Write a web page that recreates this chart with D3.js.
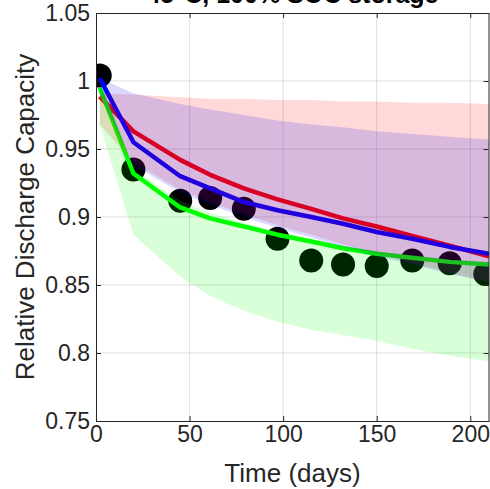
<!DOCTYPE html>
<html>
<head>
<meta charset="utf-8">
<script src="https://cdn.jsdelivr.net/npm/d3@7"></script>
<style>
  body { margin: 0; background: #fff; }
  svg { display: block; font-family: "Liberation Sans", Arial, sans-serif; }
</style>
</head>
<body>
<script>
// measured points
const days = [2, 20, 45, 61, 79, 97, 115, 132, 150, 169, 189, 208];
const measured = [1.004, 0.935, 0.912, 0.914, 0.906, 0.884, 0.868, 0.865, 0.864, 0.868, 0.866, 0.858];

// model curves and their bands
const modelDays = [2, 20, 45, 61, 79, 97, 115, 132, 150, 169, 189, 210];
const redModel   = [0.9885, 0.963, 0.942, 0.931, 0.921, 0.913, 0.906, 0.899, 0.893, 0.886, 0.879, 0.871];
const blueModel  = [1.002, 0.955, 0.930, 0.921, 0.911, 0.905, 0.900, 0.895, 0.889, 0.884, 0.878, 0.873];
const greenModel = [0.995, 0.932, 0.907, 0.899, 0.893, 0.887, 0.882, 0.877, 0.873, 0.870, 0.867, 0.865];
const redUpper   = [0.991, 0.990, 0.988, 0.987, 0.987, 0.986, 0.986, 0.985, 0.985, 0.984, 0.984, 0.983];
const redLower   = [0.968, 0.940, 0.920, 0.911, 0.902, 0.894, 0.887, 0.880, 0.873, 0.866, 0.859, 0.852];
const blueUpper  = [1.002, 0.991, 0.983, 0.979, 0.975, 0.971, 0.968, 0.966, 0.963, 0.961, 0.959, 0.957];
const blueLower  = [0.990, 0.938, 0.918, 0.909, 0.900, 0.892, 0.885, 0.878, 0.871, 0.865, 0.858, 0.852];
const greenUpper = [0.990, 0.935, 0.912, 0.903, 0.896, 0.889, 0.884, 0.879, 0.874, 0.871, 0.868, 0.866];
const greenLower = [0.968, 0.887, 0.856, 0.842, 0.831, 0.823, 0.817, 0.813, 0.809, 0.803, 0.798, 0.794];

const xTicks = [0, 50, 100, 150, 200];
const yTicks = [0.75, 0.8, 0.85, 0.9, 0.95, 1, 1.05];

const width = 490, height = 489;
const margin = {top: 13, right: 1, bottom: 68, left: 96};
const ink = "#262626";

const x = d3.scaleLinear().domain([0, 210]).range([margin.left, width - margin.right]);
const y = d3.scaleLinear().domain([0.75, 1.05]).range([height - margin.bottom, margin.top]);

const svg = d3.select("body").append("svg")
    .attr("width", width)
    .attr("height", height);

svg.append("defs").append("clipPath")
    .attr("id", "plot")
  .append("rect")
    .attr("x", margin.left)
    .attr("y", margin.top)
    .attr("width", x.range()[1] - margin.left)
    .attr("height", y.range()[0] - margin.top);

// grid
const grid = svg.append("g").attr("stroke", ink).attr("stroke-opacity", 0.15);
grid.selectAll(".gx").data(xTicks.slice(1)).join("line")
    .attr("x1", d => x(d)).attr("x2", d => x(d))
    .attr("y1", y.range()[0]).attr("y2", y.range()[1]);
grid.selectAll(".gy").data(yTicks.slice(1, -1)).join("line")
    .attr("x1", x.range()[0]).attr("x2", x.range()[1])
    .attr("y1", d => y(d)).attr("y2", d => y(d));

const plot = svg.append("g").attr("clip-path", "url(#plot)");

// points
plot.append("g").selectAll("circle")
  .data(days.map((d, i) => [d, measured[i]]))
  .join("circle")
    .attr("cx", d => x(d[0]))
    .attr("cy", d => y(d[1]))
    .attr("r", 12)
    .attr("fill", "#000");

// model lines
const line = d3.line().x(d => x(d[0])).y(d => y(d[1]));
[[redModel, "#ff0000"], [blueModel, "#0000ff"], [greenModel, "#00ff00"]].forEach(([vals, c]) => {
  plot.append("path")
      .datum(modelDays.map((d, i) => [d, vals[i]]))
      .attr("fill", "none")
      .attr("stroke", c)
      .attr("stroke-width", 4.5)
      .attr("stroke-linejoin", "round")
      .attr("d", line);
});

// uncertainty bands
const area = d3.area().x(d => x(d[0])).y0(d => y(d[1])).y1(d => y(d[2]));
[[redLower, redUpper, "#ff0000"], [blueLower, blueUpper, "#0000ff"], [greenLower, greenUpper, "#00ff00"]]
  .forEach(([lo, hi, c]) => {
    plot.append("path")
        .datum(modelDays.map((d, i) => [d, lo[i], hi[i]]))
        .attr("fill", c)
        .attr("fill-opacity", 0.15)
        .attr("d", area);
  });

// axes (ticks inside, box)
const fontSize = 23;
const xAxis = svg.append("g")
    .attr("transform", `translate(0,${y.range()[0]})`)
    .call(d3.axisBottom(x).tickValues(xTicks).tickSize(-5).tickPadding(5).tickSizeOuter(0));
const yAxis = svg.append("g")
    .attr("transform", `translate(${margin.left},0)`)
    .call(d3.axisLeft(y).tickValues(yTicks).tickFormat(d3.format("~g")).tickSize(-5).tickPadding(6).tickSizeOuter(0));
const xTop = svg.append("g")
    .attr("transform", `translate(0,${margin.top})`)
    .call(d3.axisTop(x).tickValues(xTicks).tickSize(-5).tickFormat("").tickSizeOuter(0));
const yRight = svg.append("g")
    .attr("transform", `translate(${x.range()[1] - 0.5},0)`)
    .call(d3.axisRight(y).tickValues(yTicks).tickSize(-5).tickFormat("").tickSizeOuter(0));

[xAxis, yAxis, xTop, yRight].forEach(g => {
  g.attr("font-family", null).attr("font-size", fontSize);
  g.selectAll("path, line").attr("stroke", ink).attr("stroke-width", 1);
  g.selectAll("text").attr("fill", ink);
});

// labels
svg.append("text")
    .attr("x", (x.range()[0] + x.range()[1]) / 2)
    .attr("y", 482)
    .attr("text-anchor", "middle")
    .attr("font-size", 26)
    .attr("fill", ink)
    .text("Time (days)");

svg.append("text")
    .attr("transform", `translate(34,${(y.range()[0] + y.range()[1]) / 2}) rotate(-90)`)
    .attr("text-anchor", "middle")
    .attr("font-size", 26)
    .attr("fill", ink)
    .text("Relative Discharge Capacity");

// title sits mostly above the window, as in the reference
svg.append("text")
    .attr("x", (x.range()[0] + x.range()[1]) / 2)
    .attr("y", 3)
    .attr("text-anchor", "middle")
    .attr("font-size", 25)
    .attr("font-weight", "bold")
    .attr("fill", "#000")
    .text("45°C, 100% SOC storage");
</script>
</body>
</html>
